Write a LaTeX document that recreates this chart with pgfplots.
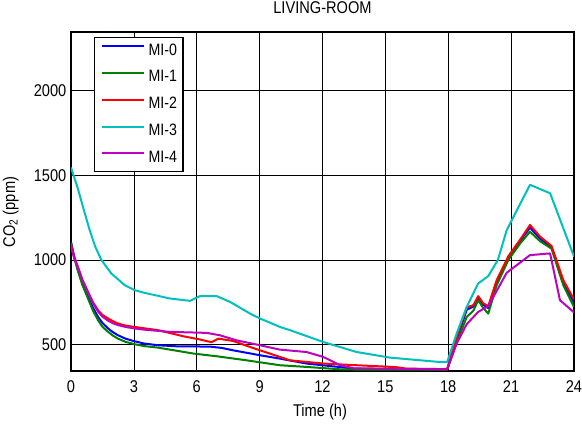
\documentclass[border=0pt]{standalone}
\usepackage{fontspec}
\setmainfont[FakeStretch=0.86]{Liberation Sans}
\usepackage{pgfplots}
\pgfplotsset{compat=1.18}

\definecolor{mblue}{RGB}{0,0,255}
\definecolor{mgreen}{RGB}{0,128,0}
\definecolor{mred}{RGB}{255,0,0}
\definecolor{mcyan}{RGB}{0,191,191}
\definecolor{mmag}{RGB}{191,0,191}

\begin{document}
\begin{tikzpicture}
\path[use as bounding box] (-71pt,-57pt) rectangle (511pt,371pt);
\begin{axis}[
  scale only axis, width=503pt, height=339pt,
  at={(0pt,0pt)}, anchor=south west,
  xmin=0, xmax=24, ymin=344, ymax=2345,
  xtick={0,3,...,24}, ytick={500,1000,1500,2000},
  font=\fontsize{17}{20}\selectfont,
  /pgf/number format/assume math mode=true,
  /pgf/number format/1000 sep={},
  grid=major, major grid style={black, line width=0.6pt},
  axis line style={line width=1.4pt},
  tick style={black, line width=0.6pt}, tick align=inside, major tick length=4pt,
  xticklabel style={inner sep=0pt, anchor=base, yshift=-22pt},
  yticklabel style={inner sep=0pt, anchor=east, xshift=-4.5pt},
  title={LIVING-ROOM},
  title style={at={(axis description cs:0.5,1.0375)}, anchor=base, inner sep=0pt},
  xlabel={Time (h)},
  xlabel style={at={(axis description cs:0.495,-0.1357)}, anchor=base, inner sep=0pt},
  ylabel={CO\textsubscript{2} (ppm)},
  ylabel style={at={(axis description cs:-0.1113,0.469)}, anchor=base, rotate=0, inner sep=0pt},
  legend cell align=left,
  legend style={at={(axis description cs:0.0457,0.985)}, anchor=north west,
    draw=black, line width=1.2pt, fill=white,
    inner xsep=6pt, inner ysep=6pt, row sep=11.8pt, column sep=4pt,
    nodes={inner sep=0pt, text height=11.5pt, text depth=3.5pt},
    font=\fontsize{16.5}{19}\selectfont},
  legend image code/.code={\draw[#1] (0pt,5pt) -- (42pt,5pt);},
  every axis plot/.append style={line width=2pt, line join=round},
]
% MI-0
\addplot[mblue] coordinates {
(0,1107) (0.15,1020) (0.33,940) (0.55,855) (0.81,782) (1.05,718) (1.29,663)
(1.5,628) (1.77,595) (2.0,573) (2.24,555) (2.6,535) (3.04,519) (3.5,506)
(4.15,496) (5,490) (6.63,488) (7.2,480) (7.74,466) (9.02,437) (9.97,417)
(11.24,388) (12.84,367) (13.5,358) (15,355) (17.95,354) (18.4,530) (18.88,705)
(19.2,725) (19.43,770) (19.67,735) (19.91,715) (20.31,870) (20.87,1010)
(21.42,1110) (21.9,1190) (22.38,1125) (22.93,1072) (23.49,865) (24,748)};
% MI-1
\addplot[mgreen] coordinates {
(0,1100) (0.15,1015) (0.33,935) (0.55,850) (0.81,772) (1.05,700) (1.29,644)
(1.5,605) (1.77,575) (2.0,553) (2.24,535) (2.6,516) (3.04,502) (3.5,491)
(4.15,482) (5.84,447) (6.95,431) (8.38,407) (9.97,378) (11.24,368) (12.84,354)
(14,352) (17.95,352) (18.4,510) (18.88,663) (19.2,700) (19.43,762) (19.67,715)
(19.91,683) (20.31,850) (20.87,1000) (21.42,1095) (21.9,1166) (22.38,1110)
(22.93,1066) (23.49,850) (24,722)};
% MI-2
\addplot[mred] coordinates {
(0,1088) (0.15,1020) (0.33,959) (0.55,880) (0.81,811) (1.05,750) (1.29,703)
(1.5,675) (1.77,654) (2.0,638) (2.24,624) (2.6,612) (3.04,604) (3.5,596)
(4.15,585) (5.36,549) (6.15,530) (6.71,514) (7.03,535) (7.74,521) (8.54,486)
(9.02,466) (9.97,427) (10.45,407) (12.04,388) (13.63,378) (15.5,367) (16,358)
(17.95,355) (18.4,545) (18.88,719) (19.2,733) (19.43,786) (19.67,743) (19.91,727)
(20.31,880) (20.87,1022) (21.42,1117) (21.9,1206) (22.38,1137) (22.93,1082)
(23.49,880) (24,766)};
% MI-3
\addplot[mcyan] coordinates {
(0,1545) (0.33,1420) (0.6,1300) (0.89,1176) (1.15,1080) (1.45,999) (1.92,920)
(2.56,851) (3.04,821) (3.52,805) (4.72,772) (5.68,758) (6.15,786) (6.95,786)
(7.59,752) (8.54,683) (9.02,654) (9.97,604) (10.45,585) (12.04,515) (13.63,456)
(15.22,423) (17.6,397) (17.95,397) (18.4,565) (18.88,722) (19.43,861) (19.91,904)
(20.37,1000) (20.79,1176) (21.9,1443) (22.86,1393) (24,1020)};
% MI-4
\addplot[mmag] coordinates {
(0,1078) (0.15,1012) (0.33,955) (0.55,880) (0.81,810) (1.05,745) (1.29,695)
(1.5,665) (1.77,641) (2.0,626) (2.24,615) (2.6,604) (3.04,595) (3.5,588)
(4.15,581) (4.72,575) (6.47,569) (7.1,555) (7.9,525) (9.02,496) (9.97,470)
(11.24,456) (12.04,427) (12.84,378) (13.5,360) (17.95,354) (18.4,506) (18.88,620)
(19.43,693) (19.91,727) (20.79,924) (21.9,1028) (22.86,1038) (23.33,762) (24,690)};
\legend{MI-0, MI-1, MI-2, MI-3, MI-4}
\end{axis}
\end{tikzpicture}
\end{document}
